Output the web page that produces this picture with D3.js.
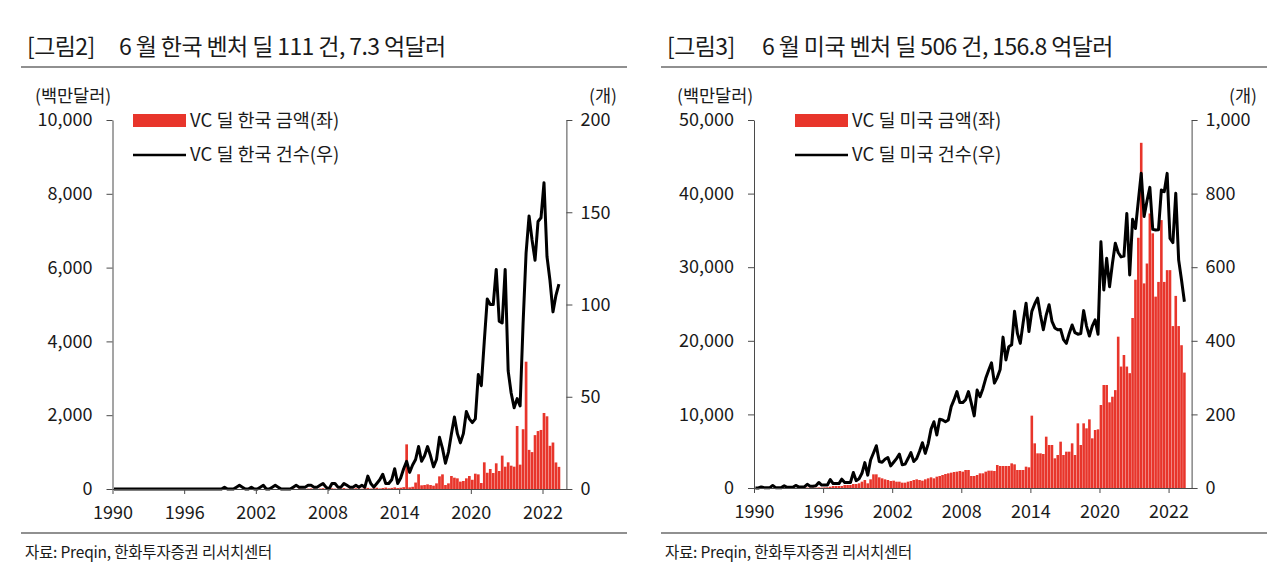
<!DOCTYPE html>
<html>
<head>
<meta charset="utf-8">
<script src="https://cdn.jsdelivr.net/npm/d3@7"></script>
<style>
  body { margin: 0; background: #fff; }
  svg text { font-family: "Noto Sans CJK KR", "Noto Sans", sans-serif; fill: #1a1a1a; }
</style>
</head>
<body>
<svg id="chart" width="1280" height="585"></svg>
<script>
// x axis: one slot per month, a label every 24 slots (labels as printed on the source)
const X_TICK_LABELS = ["1990", "1996", "2002", "2008", "2014", "2020", "2022"];
const X_TICK_EVERY = 24;

// Korea: deal amount (million USD) and deal count
const KR_AMOUNT = [
  0, 0, 0, 0, 0, 0, 0, 0, 0, 0,
  0, 0, 0, 0, 0, 0, 0, 0, 0, 0,
  0, 0, 0, 0, 0, 0, 0, 0, 0, 0,
  0, 0, 0, 0, 0, 0, 0, 0, 0, 0,
  0, 0, 0, 0, 0, 0, 0, 0, 0, 0,
  0, 0, 0, 0, 0, 0, 0, 0, 0, 0,
  8, 0, 12, 5, 0, 10, 15, 6, 0, 12,
  20, 5, 0, 18, 10, 6, 15, 25, 8, 12,
  10, 20, 15, 8, 25, 30, 12, 20, 35, 15,
  28, 40, 20, 30, 45, 25, 35, 50, 1210, 45,
  60, 175, 400, 100, 108, 126, 108, 90, 153, 343,
  397, 108, 153, 352, 307, 289, 200, 217, 289, 352,
  250, 415, 397, 162, 723, 440, 542, 433, 696, 488,
  904, 605, 723, 632, 605, 1708, 660, 1620, 3450, 1060,
  1000, 1460, 1570, 1600, 2060, 1970, 1170, 1260, 720, 600
];
const KR_DEALS = [
  0, 0, 0, 0, 0, 0, 0, 0, 0, 0,
  0, 0, 0, 0, 0, 0, 0, 0, 0, 0,
  0, 0, 0, 0, 0, 0, 0, 0, 0, 0,
  0, 0, 0, 0, 0, 0, 0, 1, 0, 0,
  0, 1, 2, 1, 0, 0, 1, 0, 0, 1,
  2, 0, 0, 1, 2, 1, 0, 0, 0, 0,
  1, 2, 1, 1, 1, 2, 2, 1, 1, 2,
  3, 1, 0, 3, 3, 1, 1, 3, 2, 1,
  1, 2, 1, 2, 1, 7, 3, 1, 3, 5,
  8, 3, 3, 5, 11, 3, 6, 11, 15, 9,
  13, 16, 23, 15, 18, 23, 18, 12, 16, 28,
  22, 14, 20, 30, 39, 30, 25, 30, 42, 38,
  36, 38, 62, 56, 80, 103, 100, 100, 119, 91,
  90, 119, 64, 52, 44, 49, 45, 90, 128, 148,
  135, 124, 145, 147, 166, 126, 113, 96, 105, 111
];

// USA: deal amount (million USD) and deal count
const US_AMOUNT = [
  0, 0, 0, 0, 0, 0, 0, 0, 0, 0,
  0, 0, 0, 0, 0, 20, 0, 30, 50, 40,
  60, 50, 80, 60, 90, 100, 181, 272, 272, 272,
  272, 407, 407, 407, 543, 543, 634, 860, 1087, 634,
  1178, 1857, 1857, 1450, 1313, 1178, 1087, 950, 996, 860,
  860, 725, 725, 860, 950, 1087, 1178, 1087, 996, 1178,
  1313, 1450, 1313, 1540, 1630, 1766, 1902, 1993, 2083, 2174,
  2220, 2310, 2219, 2446, 2446, 1630, 1630, 1766, 1993, 1993,
  2219, 2355, 2355, 2310, 3125, 2990, 2990, 2990, 2990, 3351,
  3215, 2446, 2446, 2446, 2899, 2808, 9828, 6069, 4710, 4710,
  4620, 6975, 5843, 5843, 4031, 4484, 6295, 4484, 4937, 4937,
  6069, 4484, 8786, 5843, 8786, 8107, 9329, 6748, 7880, 7970,
  11277, 13995, 13995, 11640, 12400, 13300, 20560, 16500, 18070, 16500,
  15600, 23100, 28300, 34000, 46900, 27800, 30500, 37300, 34600, 26000,
  28000, 36400, 28000, 29600, 29600, 22000, 26100, 22000, 19400, 15680
];
const US_DEALS = [
  0, 0, 3, 1, 1, 1, 7, 1, 1, 1,
  6, 2, 2, 2, 7, 3, 3, 3, 10, 5,
  5, 6, 15, 8, 8, 8, 23, 12, 12, 12,
  24, 15, 15, 15, 42, 20, 25, 40, 69, 35,
  76, 95, 115, 72, 70, 78, 83, 60, 70, 80,
  92, 63, 65, 80, 96, 72, 80, 100, 123, 94,
  120, 160, 180, 144, 187, 185, 180, 185, 221, 240,
  262, 232, 232, 240, 262, 230, 196, 266, 248, 270,
  298, 320, 340, 285, 300, 322, 410, 348, 384, 389,
  480, 420, 393, 450, 502, 425, 480, 500, 516, 470,
  430, 470, 498, 453, 435, 430, 431, 403, 393, 420,
  443, 422, 418, 420, 482, 440, 413, 440, 457, 418,
  669, 538, 624, 547, 610, 665, 640, 628, 630, 746,
  579, 730, 705, 780, 855, 738, 780, 817, 703, 701,
  702, 810, 805, 855, 678, 667, 801, 620, 565, 506
];

const KR_LEFT_TICKS = [0, 2000, 4000, 6000, 8000, 10000];
const KR_RIGHT_TICKS = [0, 50, 100, 150, 200];
const US_LEFT_TICKS = [0, 10000, 20000, 30000, 40000, 50000];
const US_RIGHT_TICKS = [0, 200, 400, 600, 800, 1000];

const RED = "#e8352b";
const AXIS = "#4a4a4a";
const svg = d3.select("#chart");

function drawPanel(cfg) {
  const g = svg.append("g");
  const x0 = cfg.x0;
  const nSlots = cfg.amount.length + 2; // plot runs two empty months past the data

  const x = d3.scaleBand()
    .domain(d3.range(nSlots))
    .range([cfg.left, cfg.right])
    .paddingInner(0.1)
    .paddingOuter(0.05);
  const xt = d3.scaleLinear().domain([0, nSlots]).range([cfg.left, cfg.right]);
  const yL = d3.scaleLinear().domain([0, d3.max(cfg.leftTicks)]).range([cfg.bottom, cfg.top]);
  const yR = d3.scaleLinear().domain([0, d3.max(cfg.rightTicks)]).range([cfg.bottom, cfg.top]);

  // heading + rules
  g.append("text").attr("x", x0 + 27).attr("y", 55)
    .style("font-size", "23px").style("letter-spacing", "-0.6px").text(cfg.fig);
  g.append("text").attr("x", x0 + cfg.titleX).attr("y", 55)
    .style("font-size", "23px").style("letter-spacing", "-0.6px").text(cfg.title);
  g.append("line").attr("x1", x0 + 21).attr("x2", x0 + 627).attr("y1", 67).attr("y2", 67)
    .attr("stroke", "#222").attr("stroke-width", 1.2);
  g.append("line").attr("x1", x0 + 21).attr("x2", x0 + 627).attr("y1", 533).attr("y2", 533)
    .attr("stroke", "#222").attr("stroke-width", 1.2);
  g.append("text").attr("x", x0 + 25).attr("y", 558)
    .style("font-size", "15.5px").style("letter-spacing", "-0.2px").text("자료: Preqin, 한화투자증권 리서치센터");

  // unit labels
  g.append("text").attr("x", x0 + cfg.unitX).attr("y", 102)
    .style("font-size", "17.5px").text("(백만달러)");
  g.append("text").attr("x", x0 + 617).attr("y", 102).attr("text-anchor", "end")
    .style("font-size", "17.5px").text("(개)");

  // bars
  g.append("g").selectAll("rect")
    .data(cfg.amount)
    .join("rect")
    .attr("x", (d, i) => x(i))
    .attr("y", d => yL(d))
    .attr("width", x.bandwidth())
    .attr("height", d => yL(0) - yL(d))
    .attr("fill", RED);

  // deal count line
  const line = d3.line()
    .x((d, i) => x(i) + x.bandwidth() / 2)
    .y(d => yR(d));
  g.append("path")
    .datum(cfg.deals)
    .attr("d", line)
    .attr("fill", "none")
    .attr("stroke", "#000")
    .attr("stroke-width", 3)
    .attr("stroke-linejoin", "round");

  // axes
  const styleAxis = sel => {
    sel.selectAll("path, line").attr("stroke", AXIS);
    sel.selectAll("text").style("font-size", "18px").attr("fill", "#1a1a1a");
  };
  g.append("g").attr("transform", `translate(${cfg.left},0)`)
    .call(d3.axisLeft(yL).tickValues(cfg.leftTicks).tickFormat(d3.format(","))
      .tickSize(6).tickSizeOuter(0).tickPadding(14))
    .call(styleAxis);
  g.append("g").attr("transform", `translate(${cfg.right},0)`)
    .call(d3.axisRight(yR).tickValues(cfg.rightTicks).tickFormat(d3.format(","))
      .tickSize(6).tickSizeOuter(0).tickPadding(8))
    .call(styleAxis);
  g.append("g").attr("transform", `translate(0,${cfg.bottom})`)
    .call(d3.axisBottom(xt)
      .tickValues(X_TICK_LABELS.map((l, i) => i * X_TICK_EVERY))
      .tickFormat((d, i) => X_TICK_LABELS[i])
      .tickSize(5).tickSizeOuter(0).tickPadding(12))
    .call(styleAxis);

  // legend
  const lx = x0 + cfg.legendX;
  g.append("rect").attr("x", lx).attr("y", 114).attr("width", 53).attr("height", 13).attr("fill", RED);
  g.append("text").attr("x", lx + 57).attr("y", 127).style("font-size", "18.5px").text(cfg.legend[0]);
  g.append("line").attr("x1", lx).attr("x2", lx + 53).attr("y1", 155).attr("y2", 155)
    .attr("stroke", "#000").attr("stroke-width", 2.6);
  g.append("text").attr("x", lx + 57).attr("y", 161).style("font-size", "18.5px").text(cfg.legend[1]);
}

drawPanel({
  x0: 0, left: 112.5, right: 566.4, top: 120, bottom: 489,
  fig: "[그림2]", title: "6 월 한국 벤처 딜 111 건, 7.3 억달러", titleX: 119,
  unitX: 35, legendX: 133,
  legend: ["VC 딜 한국 금액(좌)", "VC 딜 한국 건수(우)"],
  amount: KR_AMOUNT, deals: KR_DEALS,
  leftTicks: KR_LEFT_TICKS, rightTicks: KR_RIGHT_TICKS
});
drawPanel({
  x0: 640, left: 754, right: 1191.6, top: 120, bottom: 488,
  fig: "[그림3]", title: "6 월 미국 벤처 딜 506 건, 156.8 억달러", titleX: 122,
  unitX: 37, legendX: 155,
  legend: ["VC 딜 미국 금액(좌)", "VC 딜 미국 건수(우)"],
  amount: US_AMOUNT, deals: US_DEALS,
  leftTicks: US_LEFT_TICKS, rightTicks: US_RIGHT_TICKS
});
</script>
</body>
</html>
